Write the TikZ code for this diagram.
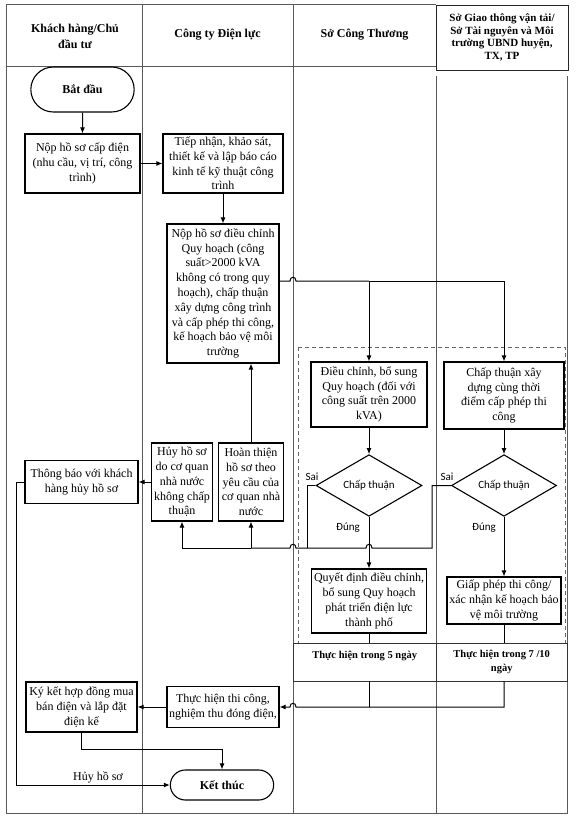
\documentclass[tikz,border=0pt]{standalone}
\usepackage{fontspec}
\setmainfont{Liberation Serif}
\newfontfamily\calibri{Carlito}
\usetikzlibrary{arrows.meta,shapes.geometric,shapes.misc}

\begin{document}
\begin{tikzpicture}[x=1pt,y=-1pt,
    lane/.style={draw=black!65,line width=0.8pt},
    group/.style={draw=black!60,line width=0.8pt,dash pattern=on 4pt off 3pt},
    head/.style={align=center,font=\bfseries\fontsize{12}{16}\selectfont},
    headbox/.style={draw=black!85,line width=0.9pt,align=center,minimum width=132pt,minimum height=65pt,font=\bfseries\fontsize{11}{12.8}\selectfont},
    box/.style={draw,line width=1.1pt,align=center,inner sep=1pt,font=\fontsize{12}{14.8}\selectfont},
    term/.style={draw,rounded rectangle,line width=1.1pt,minimum width=110pt,font=\bfseries\fontsize{12}{14}\selectfont},
    decision/.style={draw,diamond,line width=1.1pt,inner sep=0pt,minimum width=106pt,minimum height=60pt,font=\calibri\fontsize{11}{13}\selectfont},
    daycell/.style={anchor=north west,align=center,minimum height=38pt,font=\bfseries\fontsize{10.5}{14}\selectfont},
    tableline/.style={draw=black!80,line width=1pt},
    note/.style={font=\calibri\fontsize{11}{13}\selectfont},
    flow/.style={line width=1pt,-{Latex[length=6pt,width=5pt]}},
    link/.style={line width=1pt}]
\useasboundingbox (0,0) rectangle (576,818);

% Lanes
\draw[lane] (436,4) -- (6,4) -- (6,813) -- (567,813) -- (567,76);
\draw[lane] (6,66) -- (436,66);
\draw[lane] (142,4) -- (142,813);
\draw[lane] (293,4) -- (293,813);
\draw[lane] (436,76) -- (436,813);
\draw[group] (298,347) -- (565,347) -- (565,643);
\draw[group] (298,347) -- (298,643);

% Lane headers
\node[head] (h1) at (75,36) {Khách hàng/Chủ\\đầu tư};
\node[head] (h2) at (217.5,35) {Công ty Điện lực};
\node[head] (h3) at (364.5,35) {Sở Công Thương};
\node[headbox] (h4) at (502,37.5) {Sở Giao thông vận tải/\\Sở Tài nguyên và Môi\\trường UBND huyện,\\TX, TP};

% Khách hàng/Chủ đầu tư
\node[term,minimum height=45pt] (start) at (82.5,89.5) {Bắt đầu};
\node[box,minimum width=115pt,minimum height=59pt] (nopcd) at (82.5,163.5) {Nộp hồ sơ cấp điện\\(nhu cầu, vị trí, công\\trình)};
\node[box,minimum width=113pt,minimum height=43pt] (thongbao) at (81.5,482) {Thông báo với khách\\hàng hủy hồ sơ};
\node[box,minimum width=111pt,minimum height=50pt] (kyket) at (81.5,707) {Ký kết hợp đồng mua\\bán điện và lắp đặt\\điện kế};

% Công ty Điện lực
\node[box,minimum width=120pt,minimum height=59pt] (tiepnhan) at (223,163.5) {Tiếp nhận, khảo sát,\\thiết kế và lập báo cáo\\kinh tế kỹ thuật công\\trình};
\node[box,minimum width=112pt,minimum height=139pt] (nopdc) at (223,293.5) {Nộp hồ sơ điều chỉnh\\Quy hoạch (công\\suất>2000 kVA\\không có trong quy\\hoạch), chấp thuận\\xây dựng công trình\\và cấp phép thi công,\\kế hoạch bảo vệ môi\\trường};
\node[box,minimum width=61pt,minimum height=78pt] (huy) at (182,482) {Hủy hồ sơ\\do cơ quan\\nhà nước\\không chấp\\thuận};
\node[box,minimum width=65pt,minimum height=78pt] (hoanthien) at (251,482) {Hoàn thiện\\hồ sơ theo\\yêu cầu của\\cơ quan nhà\\nước};
\node[box,minimum width=112pt,minimum height=41pt] (thicong) at (223,707) {Thực hiện thi công,\\nghiệm thu đóng điện,};
\node[term,minimum height=30pt] (ketthuc) at (222,785) {Kết thúc};

% Sở Công Thương
\node[box,minimum width=116pt,minimum height=65pt] (dcbs) at (369,394.5) {Điều chỉnh, bổ sung\\Quy hoạch (đối với\\công suất trên 2000\\kVA)};
\node[decision] (d1) at (369,485.5) {Chấp thuận};
\node[box,minimum width=115pt,minimum height=64pt] (qd) at (369,601) {Quyết định điều chỉnh,\\bổ sung Quy hoạch\\phát triển điện lực\\thành phố};
\node[daycell,minimum width=143pt] (t5) at (293,643) {Thực hiện trong 5 ngày\\\mbox{}};

% Sở Giao thông vận tải / Sở Tài nguyên và Môi trường
\node[box,minimum width=120pt,minimum height=67pt] (cxd) at (504,395.5) {Chấp thuận xây\\dựng cùng thời\\điểm cấp phép thi\\công};
\node[decision,minimum width=105pt] (d2) at (504,485.5) {Chấp thuận};
\node[box,minimum width=114pt,minimum height=47pt] (gp) at (504,600.5) {Giấp phép thi công/\\xác nhận kế hoạch bảo\\vệ môi trường};
\node[daycell,minimum width=131pt] (t7) at (436,643) {Thực hiện trong 7 /10\\ngày};

% Table lines
\draw[tableline] (t5.north west) rectangle (t7.south east);
\draw[tableline] (t5.north east) -- (t5.south east);

% Labels
\node[note] (sai1) at (312,477) {Sai};
\node[note] (sai2) at (447,477) {Sai};
\node[note] (dung1) at (348,528) {Đúng};
\node[note] (dung2) at (484,528) {Đúng};
\node[font=\fontsize{12}{14}\selectfont] (huyhs) at (98,777) {Hủy hồ sơ};

% Arrows
\draw[flow] (start) -- (nopcd);
\draw[flow] (nopcd) -- (tiepnhan);
\draw[flow] (tiepnhan) -- (nopdc);
\coordinate (split) at (369,281);
\draw[link] (nopdc.east |- split) -- (290,281) .. controls (290,276) and (296,276) .. (296,281) -- (split);
\draw[flow] (split) -- (dcbs);
\draw[flow] (split) -| (cxd);
\draw[flow] (dcbs) -- (d1);
\draw[flow] (cxd) -- (d2);
\draw[flow] (d1) -- (qd);
\draw[flow] (d2) -- (gp);

% Sai
\coordinate (back) at (251,548);
\draw[link] (d1.west) -- (307,485.5) -- (307,548);
\draw[link] (d2.west) -- (432,485.5) -- (432,548) -- (372,548) .. controls (372,543) and (366,543) .. (366,548)
    -- (296,548) .. controls (296,543) and (290,543) .. (290,548) -- (back);
\draw[flow] (back) -- (hoanthien);
\draw[flow] (back) -| (huy);
\draw[flow] (hoanthien) -- (hoanthien |- nopdc.south);
\draw[flow] (huy) -- (thongbao);
\draw[flow] (thongbao.west) -- (16,482) |- (ketthuc);

% Thực hiện
\coordinate (join) at (369,707);
\draw[link] (qd) -- (qd |- t5.north);
\draw[link] (t5.south -| qd) -- (join);
\draw[link] (gp) -- (gp |- t7.north);
\draw[flow] (t7.south -| gp) |- (296,707) .. controls (296,702) and (290,702) .. (290,707) -- (thicong);
\draw[flow] (thicong) -- (kyket);
\draw[flow] (kyket.south) -- (81.5,749) -| (ketthuc);
\end{tikzpicture}
\end{document}
